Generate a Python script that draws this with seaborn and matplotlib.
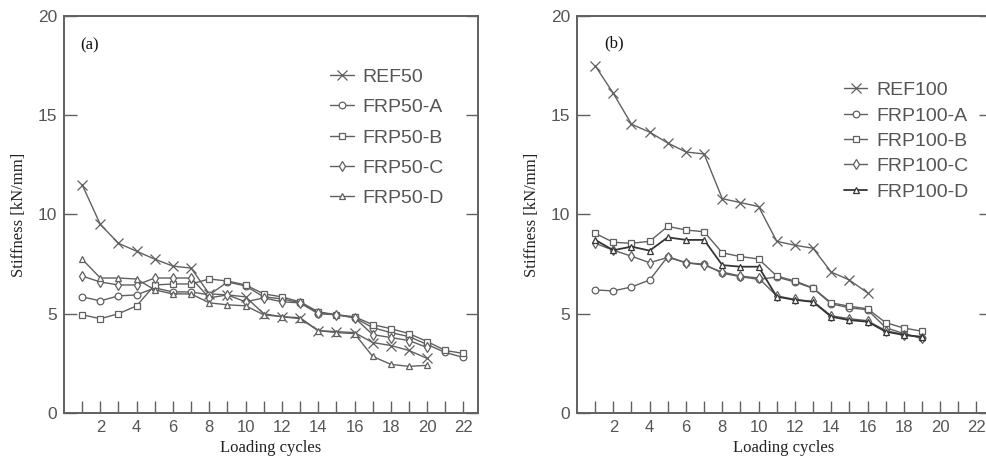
import matplotlib
matplotlib.use("Agg")
import matplotlib.pyplot as plt
import seaborn as sns
import pandas as pd

sns.set_style("white")
plt.rcParams['font.family'] = ['Liberation Sans', 'DejaVu Sans']

# ---------------- data ----------------
cycles_a = list(range(1, 23))
ref50 = [11.5, 9.5, 8.55, 8.15, 7.75, 7.4, 7.3, 6.0, 5.95, 5.85, 5.0, 4.85, 4.8, 4.15,
         4.1, 4.05, 3.55, 3.4, 3.15, 2.75]
frp50_a = [5.85, 5.65, 5.9, 5.95, 6.3, 6.1, 6.1, 5.95, 6.6, 6.4, 5.85, 5.75, 5.55, 5.0,
           4.95, 4.8, 4.3, 4.05, 3.85, 3.45, 3.05, 2.8]
frp50_b = [4.95, 4.75, 5.0, 5.4, 6.45, 6.5, 6.5, 6.75, 6.65, 6.45, 6.0, 5.85, 5.6, 5.1,
           4.95, 4.85, 4.45, 4.25, 4.0, 3.6, 3.15, 3.0]
frp50_c = [6.9, 6.6, 6.45, 6.45, 6.8, 6.8, 6.8, 5.8, 5.95, 5.6, 5.8, 5.6, 5.55, 5.05,
           4.95, 4.8, 3.95, 3.8, 3.65, 3.3]
frp50_d = [7.75, 6.8, 6.8, 6.75, 6.2, 6.0, 6.0, 5.55, 5.45, 5.4, 4.95, 4.85, 4.75, 4.15,
           4.05, 4.0, 2.85, 2.45, 2.35, 2.4]

ref100 = [17.5, 16.1, 14.55, 14.15, 13.6, 13.15, 13.05, 10.8, 10.6, 10.4, 8.65, 8.45,
          8.3, 7.1, 6.7, 6.05]
frp100_a = [6.2, 6.15, 6.35, 6.7, 7.88, 7.57, 7.5, 7.04, 6.87, 6.73, 6.85, 6.6, 6.28,
            5.5, 5.3, 5.2, 4.3, 4.0, 3.76]
frp100_b = [9.05, 8.6, 8.55, 8.65, 9.4, 9.22, 9.13, 8.07, 7.88, 7.76, 6.9, 6.65, 6.3,
            5.55, 5.38, 5.25, 4.55, 4.28, 4.12]
frp100_c = [8.55, 8.2, 7.9, 7.57, 7.84, 7.57, 7.45, 7.1, 6.9, 6.8, 5.9, 5.72, 5.62,
            4.9, 4.75, 4.65, 4.15, 3.95, 3.8]
frp100_d = [8.72, 8.2, 8.38, 8.18, 8.85, 8.72, 8.72, 7.45, 7.37, 7.37, 5.86, 5.7, 5.6,
            4.85, 4.68, 4.6, 4.1, 3.93, 3.84]

names_a = ["REF50", "FRP50-A", "FRP50-B", "FRP50-C", "FRP50-D"]
names_b = ["REF100", "FRP100-A", "FRP100-B", "FRP100-C", "FRP100-D"]
series_a = [ref50, frp50_a, frp50_b, frp50_c, frp50_d]
series_b = [ref100, frp100_a, frp100_b, frp100_c, frp100_d]
markers = ["x", "o", "s", "d", "^"]
y_ticks = [0, 5, 10, 15, 20]
x_ticks = list(range(1, 23))

GRAY = "#606060"
TICKC = "#555555"

fig = plt.figure(figsize=(9.86, 4.61), dpi=100)
W, H = 986.0, 461.0
ax1 = fig.add_axes([64 / W, 1 - 413 / H, 414 / W, 397 / H])
ax2 = fig.add_axes([577 / W, 1 - 413 / H, 414 / W, 397 / H])


def draw(ax, names, series, tag, tag_pos, lab_spacing, leg_anchor, bold_last):
    for i, (nm, vals, mk) in enumerate(zip(names, series, markers)):
        df = pd.DataFrame({"cycle": list(range(1, len(vals) + 1)), "stiff": vals})
        col = GRAY
        lw = 1.0
        if bold_last and i == len(names) - 1:
            col = "#353535"
            lw = 1.3
        sns.lineplot(data=df, x="cycle", y="stiff", ax=ax, color=col, linewidth=lw,
                     marker=mk, markersize=4.8 if mk != "x" else 6.5,
                     markerfacecolor="white" if mk != "x" else col,
                     markeredgecolor=col, markeredgewidth=0.9, label=nm)
    ax.set_xlim(0, 22.8)
    ax.set_ylim(0, 20)
    ax.set_xticks(x_ticks)
    ax.set_xticklabels([str(t) if t % 2 == 0 else "" for t in x_ticks],
                       family=['Liberation Sans Narrow', 'Liberation Sans'], fontsize=12,
                       color=TICKC)
    ax.set_yticks(y_ticks)
    ax.set_yticklabels([str(t) for t in y_ticks], fontsize=12.5, color=TICKC)
    ax.tick_params(axis="x", direction="in", length=9, width=1, color=GRAY, pad=5,
                   bottom=True, top=False)
    ax.tick_params(axis="y", direction="in", length=9, width=1, color=GRAY, pad=5,
                   left=True, right=True)
    for sp in ax.spines.values():
        sp.set_color(GRAY)
        sp.set_linewidth(1.4)
        sp.set_visible(True)
    ax.set_xlabel("Loading cycles", family=["Liberation Serif"], fontsize=12, color="#222222")
    ax.set_ylabel("Stiffness [kN/mm]", family=["Liberation Serif"], fontsize=12,
                  color="#222222")
    ax.xaxis.set_label_coords(0.5, -0.068)
    ax.yaxis.set_label_coords(-0.09, 0.5)
    ax.text(tag_pos[0], tag_pos[1], tag, transform=ax.transAxes, family=["Liberation Serif"],
            fontsize=12, color="#111111", va="center", ha="left")
    leg = ax.legend(loc="upper left", bbox_to_anchor=leg_anchor, frameon=False,
                    fontsize=14, labelspacing=lab_spacing, handlelength=1.2,
                    handletextpad=0.45, borderaxespad=0, borderpad=0)
    for t in leg.get_texts():
        t.set_color(TICKC)


draw(ax1, names_a, series_a, "(a)", (0.04, 0.925), 0.65, (0.643, 0.868), False)
draw(ax2, names_b, series_b, "(b)", (0.065, 0.93), 0.4, (0.645, 0.835), True)

fig.savefig("out.png", dpi=100)
